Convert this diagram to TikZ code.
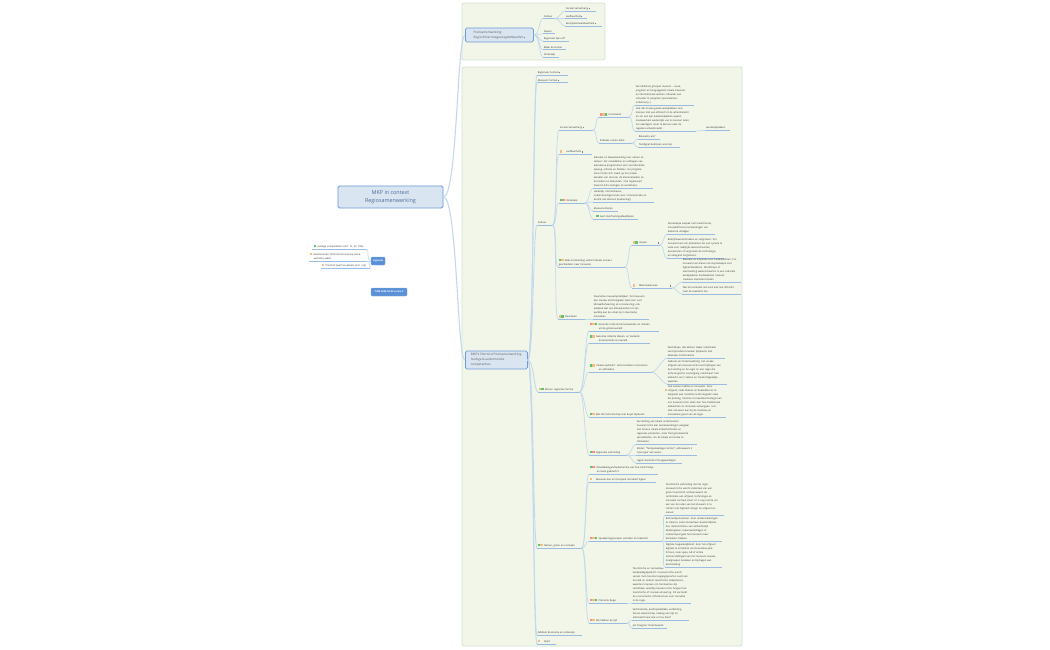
\documentclass[tikz,border=0pt]{standalone}
\usepackage{fontspec}
\setmainfont{Open Sans}
\usepackage{xcolor}
\usepackage{tikz}
\usetikzlibrary{arrows.meta}
\definecolor{paneel}{HTML}{F2F6E9}
\definecolor{paneelrand}{HTML}{D3E3D2}
\definecolor{lijn}{HTML}{C4D8EC}
\definecolor{streep}{HTML}{9ABCE0}
\definecolor{vak}{HTML}{DAE5F2}
\definecolor{vakrand}{HTML}{6C9BD8}
\definecolor{knop}{HTML}{5A90D6}
\definecolor{tekst}{HTML}{333333}
\definecolor{rood}{HTML}{F2928A}
\definecolor{oranje}{HTML}{F7BC84}
\definecolor{groen}{HTML}{5CC86A}
\newcommand{\pin}[1]{\textcolor{#1}{\rule{2.5pt}{2.5pt}}}
\newcommand{\nt}{\,\textcolor{gray}{\rule{1pt}{1.6pt}}}
\tikzset{
  topic/.style={anchor=south west, text width=#1pt, align=left, inner xsep=0.6pt, inner ysep=0.9pt,
    text=tekst, font=\fontsize{2.45}{4}\selectfont,
    append after command={(\tikzlastnode.south west) edge[draw=streep, line width=0.6pt] (\tikzlastnode.south east)}},
  box/.style={draw=vakrand, fill=vak, line width=0.8pt, rounded corners=1.5pt, align=left, text=black!65},
  knopje/.style={fill=knop, draw=vakrand!80!white, line width=0.4pt, rounded corners=1pt, text=white,
    font=\fontsize{2.4}{3.5}\selectfont\bfseries, inner sep=0pt},
  link/.style={draw=lijn, line width=0.7pt},
  panel/.style={draw=paneelrand, fill=paneel, line width=0.8pt, rounded corners=2pt}
}
\begin{document}
\begin{tikzpicture}[x=1pt, y=-1pt]
    \useasboundingbox (0,0) rectangle (1050,650);
    \fill[white] (0,0) rectangle (1050,650);
    \draw[panel] (462,3) rectangle (605,60);
    \draw[panel] (462,67) rectangle (742,646);

    % left side
    \node[box, align=center, minimum width=105pt, minimum height=22pt, inner sep=0pt, text=vakrand!70!black, font=\fontsize{5.4}{7.8}\selectfont] (root) at (390.5,197){MKP in context\\Regiosamenwerking};
    \node[knopje, minimum width=14pt, minimum height=8pt] (legenda) at (378,261){Legenda};
    \node[knopje, minimum width=36pt, minimum height=8pt] (datum) at (389,292){TILM 2020-04-02 versie 2};
    \node[topic=53] (huidig) at (312,249){\hspace*{1pt}\pin{groen}\, Huidige competenties (incl. 'G, 33, 75\%)};
    \node[topic=55] (aankomend) at (309,261){\pin{oranje}\, Aankomende Optie binnen beroep (area,\\ \hspace*{4pt}wat/v/hij vaker)};
    \node[topic=47] (prioriteit) at (321,268){\pin{oranje}\, Prioriteit (wat/na vakken) (incl. vrij)};

    % top panel
    \node[box, minimum width=68pt, minimum height=14pt, inner sep=1pt, anchor=west, font=\fontsize{3.1}{5}\selectfont] (pool) at (465,35){Poolsamenwerking:\\Regio/linker/toegevoegdeWaarden\nt};
    \node[topic=10] (cultuurA) at (543,18.5){Cultuur};
    \node[topic=29] (sociaalA) at (565,11){Sociale Samenhang\nt};
    \node[topic=20] (leefA) at (565,18.5){Leefbaarheid\nt};
    \node[topic=35] (eenzijdA) at (565,26){Eenzijdse/Kwetsbaarheid\nt};
    \node[topic=10] (natuurA) at (543,33.7){Natuur};
    \node[topic=24] (spinoff) at (543,41.2){Regionale Spin-off};
    \node[topic=21] (maak) at (543,49.7){Maak Economie};
    \node[topic=14] (onderwijsA) at (543,57){Onderwijs};

    % big panel, first level
    \node[box, minimum width=62pt, minimum height=18pt, inner sep=1pt, anchor=west, font=\fontsize{3.1}{5}\selectfont] (shortlist) at (465,360){MKP's ShortList Poolsamenwerking,\\huidige \& aankomende\\competenties};
    \node[topic=29] (context) at (537,75){Regionale Context\nt};
    \node[topic=29] (museum) at (537,82.5){Museum Context\nt};
    \node[topic=14] (cultuur) at (537,225){Cultuur};
    \node[topic=40] (binnen) at (538,392){\pin{oranje}\pin{groen}\, Binnen regionale functie};
    \node[topic=43] (natuur) at (537,548){\pin{groen}\pin{oranje}\, Natuur, groen en recreatie};
    \node[topic=43] (mobiel) at (537,635){(Mobiel) Economie en onderwijs};
    \node[topic=17] (sport) at (537,644){\pin{oranje}\pin{paneel}\, Sport};

    % cultuur
    \node[topic=32] (sociaal) at (559,130){Sociale Samenhang\nt};
    \node[topic=31] (leef) at (559,154){\pin{oranje}\pin{paneel}\, Leefbaarheid\nt};
    \node[topic=24] (onderwijs) at (559,203){\pin{groen}\pin{rood}\, Onderwijs};
    \node[topic=65] (web) at (558,267){\pin{groen}\pin{oranje}\, Web-ontsluiteling verbind lokale musea /\\geschiedenis naar innovatie};
    \node[topic=25] (duurzaam) at (558,319){\pin{oranje}\pin{groen}\, Duurzaam};
    \node[topic=28] (inclusief) at (599,117){\pin{rood}\pin{oranje}\pin{groen}\, Inclusiviteit};
    \node[topic=31] (publiek) at (599,143){Publieke ruimte kritie};
    \node[topic=57] (groepen) at (635,105){Verschillende groepen mensen -- oude,\\jongeren en hoogopgeleid, lokale inwoners\\en internationale werken schouder aan\\schouder in projecten (woonkamers\\ondernemj...)};
    \node[topic=59] (werkplek) at (635,131){Ook der musea goede werkplekken voor\\mensen met een afstand tot de arbeidsmarkt\\en om een zijn leerwerkplekken waarin\\medewerkers wederzijds van zo kunnen leren;\\om vaardigers meer te kennen naar de\\reguliere arbeidsmarkt.};
    \node[topic=23] (leerwerk) at (705,130.5){Leerwerkplekken};
    \node[topic=20] (relevant) at (638,139){Relevante ein?};
    \node[topic=40] (toutlignet) at (638,147){Toutlignet bedrijven voorzien};
    \node[topic=58] (educatie) at (593,188.5){Educatie en bewustwording over natuur en\\cultuur: het ontwikkelen en uitdragen van\\educatieve programma's voor voortdurende\\opvoeg, scholen en families. De program-\\ma's richten zich zowel op het unieke\\karakter van de Hoei, de kleinmeraalten en\\de Kiviken en bekunden. Ook organiseert\\Vivacom Echo lezingen en workshops.};
    \node[topic=59] (landelijk) at (593,202){Landelijk, Intertel-basen,\\ondersteunt/genomen voor communicatie en\\de link van kleiners (Hamerslag)};
    \node[topic=23] (vlecht) at (593,211){Museumscherps};
    \node[topic=43] (toeting) at (593,219){\pin{paneel}\pin{groen}\, leert Van/Toetingsafwatbijzen};
    \node[topic=26] (musea) at (632,245){\pin{oranje}\pin{groen}\, musea\hfill\nt};
    \node[topic=38] (materiaal) at (632,288){\pin{oranje}\pin{paneel}\, Materiaalmusea\hfill\nt};
    \node[topic=46] (samenwijze) at (667,234){Samenwijze aanpak met meerbronde,\\innovatief/oneconomie/dragen van\\Erebonte uitdagen};
    \node[topic=55] (bedrijf) at (667,258){Bedrijfskavetechnieken en vergroeien: het\\museum kan ook problemen als een cyrielle te\\vede voor nabijtijds wetenschaarten,\\presenteren of vergroeien de technologie\\en uitlegend zorgleniens.};
    \node[topic=57] (inspiratie) at (682,282){Educatie en inspiratie voor hedikankibren: het\\museum kan dienen als inspiratiepek voor\\higher/ideelleren. Workshops of\\teentrucking wetenschaarten in een culturele\\werkplaatsen mediawerken mensen\\creatieve manieren binden.};
    \node[topic=57] (verleden) at (682,294){Wie het verleden niet kent kan niet effectief\\naar de toekomst toe};
    \node[topic=54] (praktijk) at (593,319){Duurzame museumpraktijken: het museum\\kan nieuwe technologieën laten zien voor\\klimaatbeheersing en conservering; ook\\adapted wat een klimaatverlies tot zijn\\werkbij aan de uitval op in duurzame\\innovaties.};

    % binnen regionale functie
    \node[topic=68] (gezond) at (589,331){\pin{rood}\pin{oranje}\pin{groen}\, Gezonde collectie binnenwanden en stelden\\\hspace*{9pt}uit de gehele wereld};
    \node[topic=59] (bleken) at (589,343){\pin{groen}\pin{oranje}\, Gezonde collectie bleken- en bestand-\\\hspace*{9pt}documentatie ter wereld};
    \node[topic=61] (uniek) at (589,372){\pin{groen}\pin{oranje}\, Unieke opdracht: tentoonstellen voornamen\\\hspace*{9pt}en uitbreiden};
    \node[topic=72] (wet) at (589,417){\pin{groen}\pin{oranje}\, Wet 80i Partnerschap met Koyal Gijsbouts};
    \node[topic=36] (verbinding) at (589,455){\pin{groen}\pin{rood}\, Regionale verbinding};
    \node[topic=56] (workshop) at (667,358){Workshops, alle kleinen zwak/ combinatie\\van bijzondere breeden (Gijbouts) met\\klassieke instrumenten};
    \node[topic=58] (gebruik) at (667,384){Gebruik als Onderzoeksting: het unieke\\erfgoed van museum Echo leert kijkingen van\\de kruisting en de regio on een regio die\\technologische vooruitgang combineert met\\ambacht voor creëren en maatschappelijke\\waarden.};
    \node[topic=60] (traditie) at (664,417){\hspace*{3pt}Ook kosten traditie en innovatie: Door\\\pin{oranje}\hspace*{1pt}erfgoed, zoals Kleiken en bekendkunst, te\\\hspace*{3pt}koppelen aan moderne technologieën zoals\\\hspace*{3pt}3D-printing, robotica of meedetechnologie kan\\\hspace*{3pt}ons museum Echo laten zien hoe traditionele\\\hspace*{3pt}ambachten en innovatie samengaan. Het\\\hspace*{3pt}sluit ook weer aan bij de creatieve en\\\hspace*{3pt}innovatieve geest van de regio.};
    \node[topic=59] (horeca) at (636,444){Versterking van lokale ondernemers:\\museum Echo kan samenwerkingen aangaan\\met horeca, lokale ambachtsheden en\\regionale producten, zoals fruit gerelateerde\\specialiteiten, om de lokale economie te\\stimuleren.};
    \node[topic=59] (kinder) at (636,455){Kinder: "Tempelvakdagen Antier", uitbrauwers 3\\*t jaar (jaar een wens)};
    \node[topic=44] (regelo) at (636,463){regelo bezorderi Poesgewerktigen};

    % natuur
    \node[topic=67] (ontwikkel) at (589,474){\pin{groen}\pin{rood}\, Ontwikkelingen/Nederlandse van hoe-/recht/natje\\\hspace*{7pt}en team gebreuhrt};
    \node[topic=65] (duinpark) at (589,482){\pin{oranje}\pin{paneel}\, Museum kun en Duinpark recreatief logeer};
    \node[topic=71] (speel) at (589,541){\pin{rood}\pin{oranje}\pin{groen}\, Speelwiring/pusseen vertellen en toekomst};
    \node[topic=36] (promotie) at (589,603){\pin{rood}\pin{oranje}\pin{groen}\, Promotie Regio};
    \node[topic=36] (tijd) at (589,623){\pin{rood}\pin{oranje}\, Wij hebben de tijd};
    \node[topic=57] (toerist) at (665,515){Toeristische verbinding met de regio:\\museum Echo wordt onderdeel van een\\groter toeristisch verhaal waarin de\\combinatie van erfgoed, technologie en\\innovatie centraal staat. Er is nog ruimte om\\een van de Laten van led-museum in te\\richten met hightech design en erfgoed en\\natuur.};
    \node[topic=55] (behoud) at (665,541){Behoudspanoramas: door unieke belevingen\\te creëren, zoals interactieve doeleinddelde-\\ties, demonstraties van ambachtelijk\\kleidengieten, tekeerwerkdragen of\\interactiejeel gaat het museum meer\\bezoekers trekken.};
    \node[topic=55] (digitaal) at (665,567){Digitale toegankelijkheid: door het erfgoed\\digitaal te ontsluiten via innovatieve plat-\\formen, zoals apps, AR of online\\tentoonstellingen kan het museum nieuwe\\doelgroepen bereiken en bijdragen aan\\kennisdeling.};
    \node[topic=57] (werkplk) at (632,603){Toeristische en recreatieve\\werkplekkgeparacht: museum Echo wordt\\samen met mooiste toegangspoorten Land van\\de Kled en andere toeristische trekpleisters,\\waardoor mensen om hiernaartoe zijn\\vertrekken, waarbij museum Echo fungeert als\\toeristische of cruciale uitvoering. Dit versterkt\\de economische infrastructuur voor recreatie\\in de regio.};
    \node[topic=55] (tussen) at (632,620){Verbindende, participatiedikke, verbinding\\tussen wetenschap, making een tijd en\\alternatief naar wat er hoe doet?};
    \node[topic=33] (stem) at (632,628){Jan Poegtoer Stemmewerk};

    % connectors
    \draw[link, line width=1.1pt] (root.east) .. controls +(14,0) and +(-8,0) .. (pool.west);
    \draw[link, line width=1.1pt] (root.east) .. controls +(14,0) and +(-8,0) .. (shortlist.west);
    \draw[link] (legenda.west) .. controls +(-5,0) and +(3,0) .. (huidig.south east);
    \draw[link] (legenda.west) -- (aankomend.south east);
    \draw[link] (legenda.west) .. controls +(-5,0) and +(3,0) .. (prioriteit.south east);
    \foreach \p/\c in {pool/cultuurA, pool/natuurA, pool/spinoff, pool/maak, pool/onderwijsA}
      \draw[link] (\p.east) .. controls +(6,0) and +(-4,0) .. (\c.south west);
    \foreach \p/\c in {shortlist/context, shortlist/museum, shortlist/cultuur, shortlist/binnen, shortlist/natuur, shortlist/mobiel, shortlist/sport}
      \draw[link, line width=0.9pt] (\p.east) .. controls +(6,0) and +(-4,0) .. (\c.south west);
    \foreach \p/\c in {cultuurA/sociaalA, cultuurA/leefA, cultuurA/eenzijdA,
      cultuur/sociaal, cultuur/leef, cultuur/onderwijs, cultuur/web, cultuur/duurzaam,
      sociaal/inclusief, sociaal/publiek, inclusief/groepen, inclusief/werkplek, werkplek/leerwerk,
      publiek/relevant, publiek/toutlignet,
      onderwijs/educatie, onderwijs/landelijk, onderwijs/vlecht, onderwijs/toeting,
      web/musea, web/materiaal, musea/samenwijze, musea/bedrijf,
      materiaal/inspiratie, materiaal/verleden, duurzaam/praktijk,
      binnen/gezond, binnen/bleken, binnen/uniek, binnen/wet, binnen/verbinding,
      uniek/workshop, uniek/gebruik, wet/traditie,
      verbinding/horeca, verbinding/kinder, verbinding/regelo,
      natuur/ontwikkel, natuur/duinpark, natuur/speel, natuur/promotie, natuur/tijd,
      speel/toerist, speel/behoud, speel/digitaal, promotie/werkplk, tijd/tussen, tijd/stem}
      \draw[link] (\p.south east) .. controls +(5,0) and +(-4,0) .. (\c.south west);
\end{tikzpicture}
\end{document}
